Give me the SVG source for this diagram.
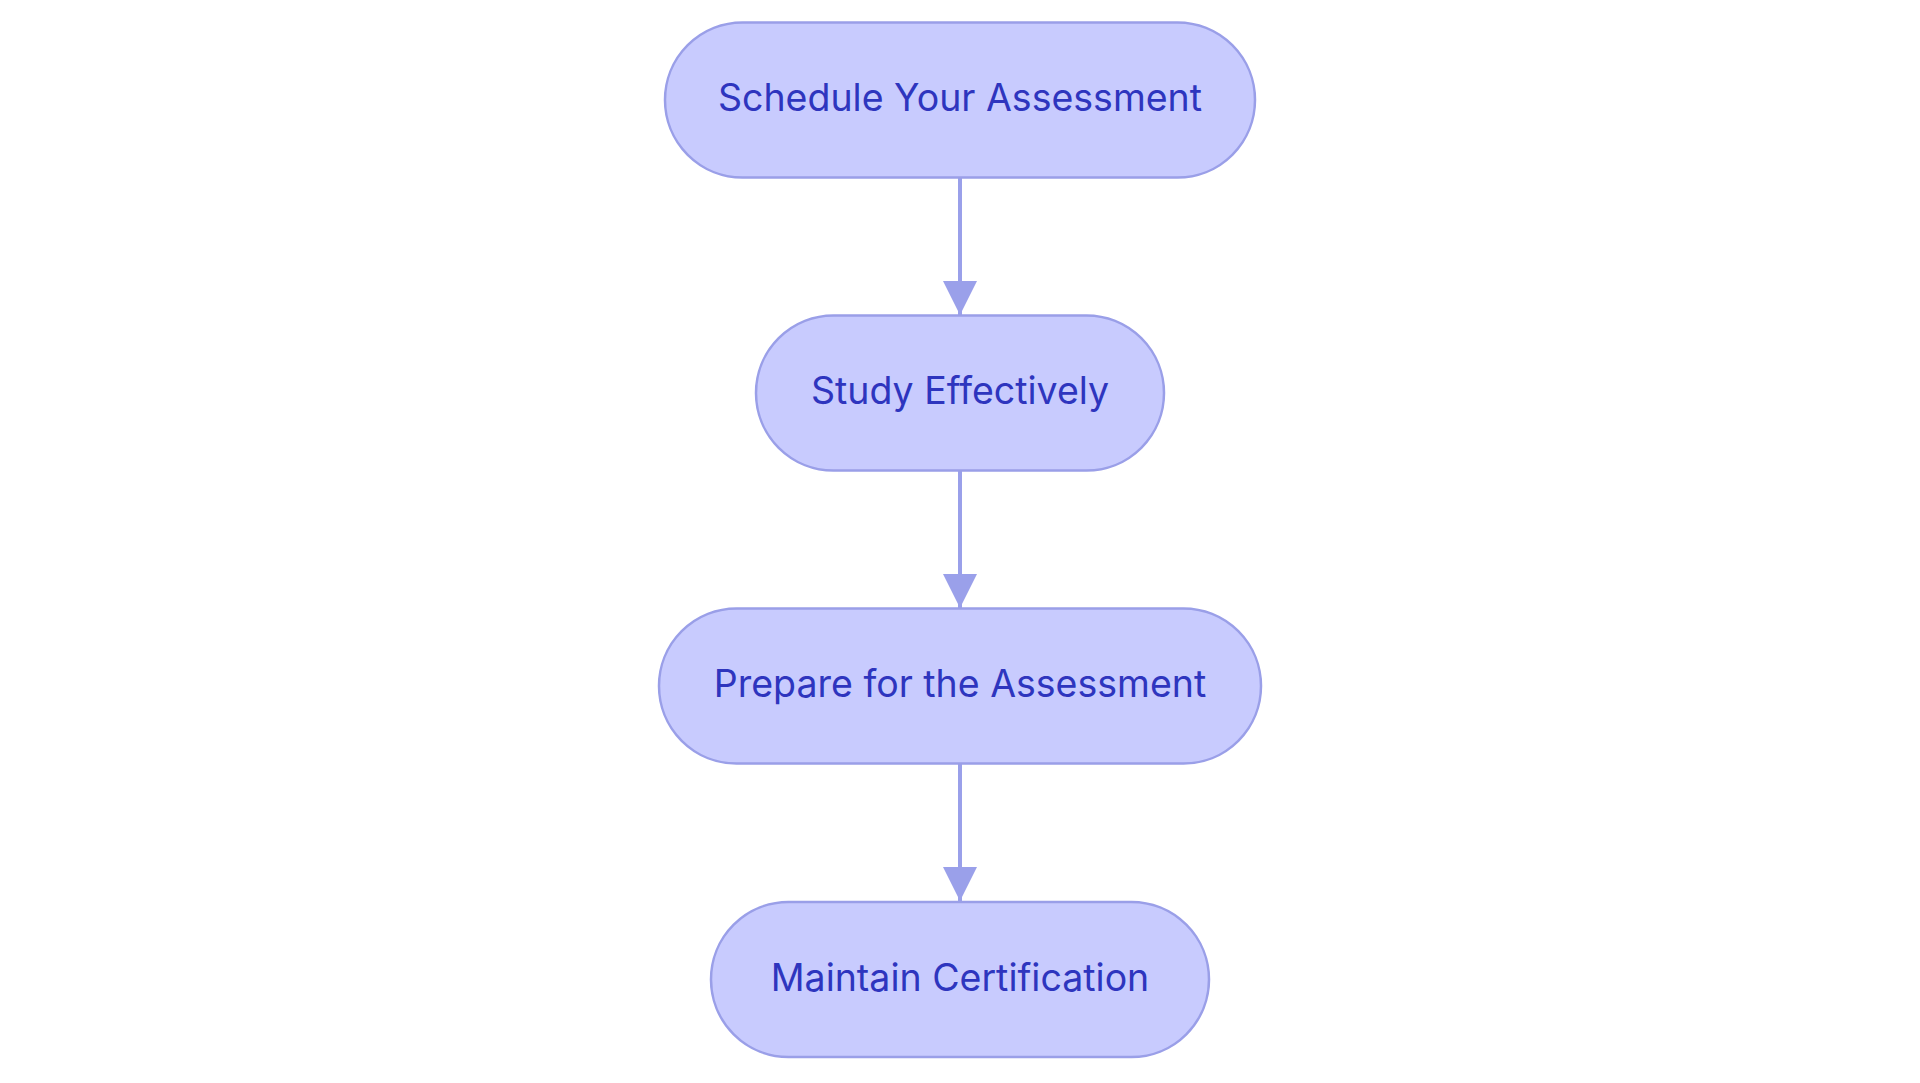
<svg xmlns="http://www.w3.org/2000/svg" width="1920" height="1083" viewBox="0 0 1920 1083">
<defs>
<style>
.node rect{fill:#C8CBFE;stroke:#9A9FE8;stroke-width:2.5}
.node text{font-family:Inter,"Noto Sans","Liberation Sans",sans-serif;font-size:37.5px;fill:#2E35BE;text-anchor:middle}
.edge{stroke:#9AA0EA;stroke-width:4;fill:none}
</style>
<marker id="arrow" markerUnits="userSpaceOnUse" markerWidth="34" markerHeight="34" refX="34" refY="17" orient="auto" viewBox="0 0 34 34">
<path d="M0,0 L34,17 L0,34 Z" fill="#9AA0EA"/>
</marker>
</defs>
<rect width="1920" height="1083" fill="#FFFFFF"/>
<g id="connectors">
<line class="edge" x1="960" y1="178" x2="960" y2="315" marker-end="url(#arrow)"/>
<line class="edge" x1="960" y1="471" x2="960" y2="608" marker-end="url(#arrow)"/>
<line class="edge" x1="960" y1="764" x2="960" y2="901" marker-end="url(#arrow)"/>
</g>
<g id="node-schedule" class="node">
<rect x="665" y="22.5" width="590" height="155" rx="77.5" ry="77.5"/>
<text x="960" y="111">Schedule Your Assessment</text>
</g>
<g id="node-study" class="node">
<rect x="756" y="315.5" width="408" height="155" rx="77.5" ry="77.5"/>
<text x="960" y="404">Study Effectively</text>
</g>
<g id="node-prepare" class="node">
<rect x="659" y="608.5" width="602" height="155" rx="77.5" ry="77.5"/>
<text x="960" y="697">Prepare for the Assessment</text>
</g>
<g id="node-maintain" class="node">
<rect x="711" y="902" width="498" height="155" rx="77.5" ry="77.5"/>
<text x="960" y="990.5">Maintain Certification</text>
</g>
</svg>
